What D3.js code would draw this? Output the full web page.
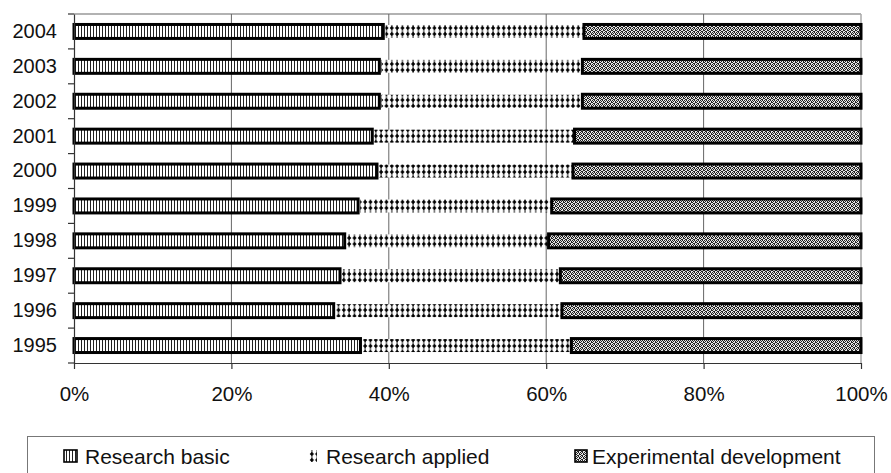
<!DOCTYPE html>
<html>
<head>
<meta charset="utf-8">
<script src="https://cdn.jsdelivr.net/npm/d3@7"></script>
<style>
  html, body { margin: 0; padding: 0; background: #fff; }
  svg { display: block; font-family: "Liberation Sans", Arial, Helvetica, sans-serif; }
</style>
</head>
<body>
<svg id="chart" width="891" height="473"></svg>
<script>
// R&D expenditure by type of activity, share of total (%)
const years = ["1995", "1996", "1997", "1998", "1999", "2000", "2001", "2002", "2003", "2004"];
const researchBasic = [36.4, 33.0, 33.8, 34.4, 36.1, 38.5, 37.9, 38.8, 38.8, 39.3];
const researchApplied = [26.8, 29.0, 28.0, 25.9, 24.6, 24.9, 25.7, 25.8, 25.8, 25.5];
const experimentalDev = [36.8, 38.0, 38.2, 39.7, 39.3, 36.6, 36.4, 35.4, 35.4, 35.2];
const xTicks = [0, 20, 40, 60, 80, 100];
const seriesNames = ["Research basic", "Research applied", "Experimental development"];

const svg = d3.select("#chart");
const margin = { left: 74, right: 891 - 861, top: 14, bottom: 473 - 363 };
const W = 891, H = 473;
const plotW = W - margin.left - margin.right;
const plotH = H - margin.top - margin.bottom;

// Fill patterns for the three series
const defs = svg.append("defs");
const pBasic = defs.append("pattern").attr("id", "pBasic")
  .attr("patternUnits", "userSpaceOnUse").attr("width", 3).attr("height", 3);
pBasic.append("rect").attr("width", 3).attr("height", 3).attr("fill", "#fff");
pBasic.append("rect").attr("x", 0).attr("width", 1).attr("height", 3).attr("fill", "#222");

const pApplied = defs.append("pattern").attr("id", "pApplied")
  .attr("patternUnits", "userSpaceOnUse").attr("width", 5.33).attr("height", 6)
  .attr("y", 1);
pApplied.append("rect").attr("width", 5.33).attr("height", 6).attr("fill", "#fff");
pApplied.append("rect").attr("x", 2.1).attr("y", 0).attr("width", 1.2).attr("height", 6).attr("fill", "#444");
pApplied.append("path").attr("d", "M2.7,0.8 L4.8,3 L2.7,5.2 L0.6,3 Z").attr("fill", "#000");

const pExp = defs.append("pattern").attr("id", "pExp")
  .attr("patternUnits", "userSpaceOnUse").attr("width", 4).attr("height", 4);
pExp.append("rect").attr("width", 4).attr("height", 4).attr("fill", "#e6e6e6");
const expDark = [[0, 0], [2, 0], [1, 1], [3, 1], [0, 2], [3, 2], [1, 3], [2, 3]];
expDark.forEach(([px, py]) => {
  pExp.append("rect").attr("x", px).attr("y", py).attr("width", 1).attr("height", 1).attr("fill", "#222");
});

const x = d3.scaleLinear().domain([0, 100]).range([margin.left, margin.left + plotW]);
const y = d3.scaleBand().domain(years.slice().reverse())
  .range([margin.top, margin.top + plotH]).paddingInner(0.6).paddingOuter(0.3);

// Plot frame (top and right edges)
const g = svg.append("g");
g.append("line").attr("x1", x(0)).attr("x2", x(100)).attr("y1", margin.top).attr("y2", margin.top)
  .attr("stroke", "#999").attr("stroke-width", 1.5);
g.append("line").attr("x1", x(100)).attr("x2", x(100)).attr("y1", margin.top).attr("y2", margin.top + plotH)
  .attr("stroke", "#aaa").attr("stroke-width", 1.5);

// Vertical gridlines
g.selectAll(".grid").data(xTicks.filter(t => t > 0 && t < 100)).enter().append("line")
  .attr("x1", d => x(d)).attr("x2", d => x(d))
  .attr("y1", margin.top).attr("y2", margin.top + plotH)
  .attr("stroke", "#666").attr("stroke-width", 1);

// Stacked bars
const stackData = years.map((yr, i) => ({
  year: yr, basic: researchBasic[i], applied: researchApplied[i], exp: experimentalDev[i]
}));
const stack = d3.stack().keys(["basic", "applied", "exp"]);
const layers = stack(stackData);
const fills = ["url(#pBasic)", "url(#pApplied)", "url(#pExp)"];
const strokes = ["#000", "none", "#000"];
const bh = y.bandwidth();

layers.forEach((layer, k) => {
  g.append("g").selectAll("rect").data(layer).enter().append("rect")
    .attr("x", d => x(d[0]) + (k === 1 ? 2 : 0))
    .attr("width", d => x(d[1]) - x(d[0]) - (k === 1 ? 3 : 0))
    .attr("y", d => y(d.data.year) + (k === 1 ? 0.5 : 0))
    .attr("height", k === 1 ? bh - 1 : bh)
    .attr("fill", fills[k])
    .attr("stroke", strokes[k])
    .attr("stroke-width", 3);
});

// Axes
const yAxis = d3.axisLeft(y).tickSize(0).tickPadding(17);
const yg = svg.append("g").attr("transform", `translate(${margin.left},0)`).call(yAxis);
yg.select(".domain").attr("stroke", "#333").attr("stroke-width", 1.2);
yg.selectAll("text").attr("font-size", 20).attr("fill", "#111")
  .attr("font-family", "'Liberation Sans', Arial, sans-serif");

// Category boundary ticks on the left axis
const bounds = d3.range(years.length + 1).map(i => margin.top + i * plotH / years.length);
svg.append("g").selectAll("line").data(bounds).enter().append("line")
  .attr("x1", margin.left - 6).attr("x2", margin.left)
  .attr("y1", d => d).attr("y2", d => d)
  .attr("stroke", "#333").attr("stroke-width", 1.2);

const xAxis = d3.axisBottom(x).tickValues(xTicks).tickFormat(d => d + "%")
  .tickSizeInner(6).tickSizeOuter(0).tickPadding(17);
const xg = svg.append("g").attr("transform", `translate(0,${margin.top + plotH})`).call(xAxis);
xg.select(".domain").attr("stroke", "#333").attr("stroke-width", 1.2);
xg.selectAll(".tick line").attr("stroke", "#333").attr("stroke-width", 1.2);
xg.selectAll("text").attr("font-size", 20.5).attr("fill", "#111")
  .attr("font-family", "'Liberation Sans', Arial, sans-serif");

// Legend
const lg = svg.append("g");
lg.append("rect").attr("x", 27.5).attr("y", 436.5).attr("width", 847).attr("height", 45)
  .attr("fill", "#fff").attr("stroke", "#777").attr("stroke-width", 1);
const legendItems = [
  { x: 64, tx: 85, fill: fills[0], stroke: "#000", w: 13 },
  { x: 309, tx: 326, fill: fills[1], stroke: "none", w: 8 },
  { x: 575, tx: 592, fill: fills[2], stroke: "#000", w: 12 }
];
legendItems.forEach((it, i) => {
  lg.append("rect").attr("x", it.x).attr("y", 450).attr("width", it.w).attr("height", 12)
    .attr("fill", it.fill).attr("stroke", it.stroke).attr("stroke-width", 1.6);
  lg.append("text").attr("x", it.tx).attr("y", 464)
    .attr("font-size", 21).attr("fill", "#111").text(seriesNames[i]);
});
</script>
</body>
</html>
